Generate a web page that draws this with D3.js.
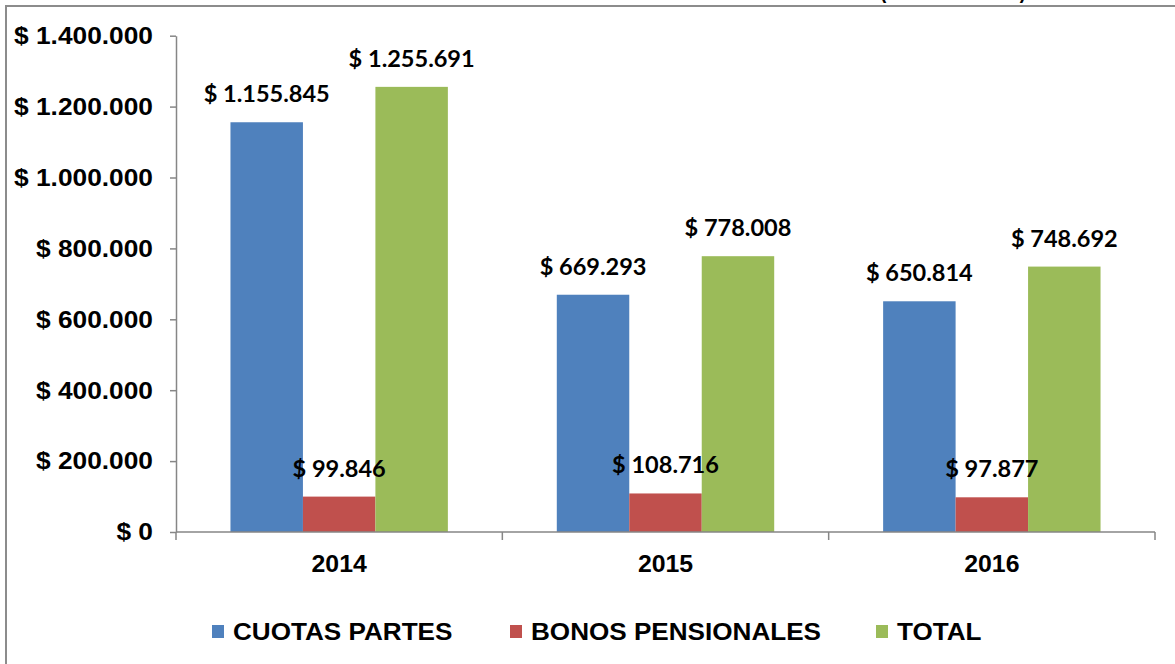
<!DOCTYPE html>
<html>
<head>
<meta charset="utf-8">
<script src="https://cdn.jsdelivr.net/npm/d3@7"></script>
<style>
  html, body { margin: 0; padding: 0; background: #fff; }
  svg { display: block; }
</style>
</head>
<body>
<svg id="chart" width="1175" height="664"></svg>
<script>
// Years on the category axis
const years = ["2014", "2015", "2016"];
// Series names (legend order)
const seriesNames = ["CUOTAS PARTES", "BONOS PENSIONALES", "TOTAL"];
// Values per series, one per year
const cuotasPartes = [1155845, 669293, 650814];
const bonosPensionales = [99846, 108716, 97877];
const total = [1255691, 778008, 748692];
// Y axis ticks
const yTicks = [0, 200000, 400000, 600000, 800000, 1000000, 1200000, 1400000];

const seriesValues = [cuotasPartes, bonosPensionales, total];
const colors = ["#4F81BD", "#C0504D", "#9BBB59"];

const locale = d3.formatLocale({ decimal: ",", thousands: ".", grouping: [3], currency: ["$ ", ""] });
const money = locale.format("$,.0f");

const svg = d3.select("#chart");

// frame
svg.append("path")
  .attr("d", "M6,664 L6,6 L1175,6")
  .attr("fill", "none").attr("stroke", "#8c8c8c").attr("stroke-width", 2);

// heading running off the top edge
svg.append("text")
  .attr("x", 880).attr("y", -2)
  .attr("textLength", 146).attr("lengthAdjust", "spacingAndGlyphs")
  .attr("font-family", "Liberation Sans, Arial, sans-serif")
  .attr("font-weight", "bold").attr("font-size", 22)
  .text("(Cifras en miles)");

const plot = { left: 176, right: 1155, top: 35.7, bottom: 532 };

const y = d3.scaleLinear().domain([0, 1400000]).range([plot.bottom, plot.top]);
const x0 = d3.scaleBand().domain(years).range([plot.left, plot.right]).padding(0);
const x1 = d3.scaleBand().domain(seriesNames)
  .range([x0.bandwidth() * 0.1669, x0.bandwidth() * 0.8331]).padding(0);

// stretched bold text helper
function label(g, x, yy, str, opts) {
  return g.append("text")
    .attr("transform", `translate(${x},${yy}) scale(${opts.sx},1)`)
    .attr("text-anchor", opts.anchor || "middle")
    .attr("font-family", opts.family)
    .attr("font-weight", "bold")
    .attr("font-size", opts.size)
    .attr("fill", "#000")
    .text(str);
}

const arial = "Liberation Sans, Arial, sans-serif";
const calib = "Lato, Carlito, Calibri, sans-serif";

// bars
const groups = svg.append("g").selectAll("g")
  .data(years).join("g")
  .attr("transform", d => `translate(${x0(d)},0)`);

groups.selectAll("rect")
  .data((d, i) => seriesNames.map((s, k) => ({ s, k, v: seriesValues[k][i] })))
  .join("rect")
  .attr("x", d => x1(d.s))
  .attr("width", x1.bandwidth())
  .attr("y", d => y(d.v))
  .attr("height", d => y(0) - y(d.v))
  .attr("fill", d => colors[d.k]);

// Y axis
const yAxis = svg.append("g")
  .attr("transform", `translate(${plot.left},0)`)
  .call(d3.axisLeft(y).tickValues(yTicks).tickSize(6).tickSizeOuter(0).tickFormat(""));
yAxis.selectAll("path, line").attr("stroke", "#868686").attr("stroke-width", 1.5);
yTicks.forEach(t => {
  label(svg, 153, y(t) + 8.3, money(t), { sx: 1.144, anchor: "end", family: arial, size: 23 });
});

// X axis: baseline plus ticks at category boundaries
const xAxis = svg.append("g");
xAxis.append("line")
  .attr("x1", plot.left).attr("x2", plot.right)
  .attr("y1", y(0)).attr("y2", y(0))
  .attr("stroke", "#868686").attr("stroke-width", 1.5);
const bounds = years.map(d => x0(d)).concat([x0(years[years.length - 1]) + x0.bandwidth()]);
xAxis.selectAll("line.tick").data(bounds).join("line")
  .attr("class", "tick")
  .attr("x1", d => d).attr("x2", d => d)
  .attr("y1", y(0)).attr("y2", y(0) + 8)
  .attr("stroke", "#868686").attr("stroke-width", 1.5);
years.forEach(d => {
  label(svg, x0(d) + x0.bandwidth() / 2, 572, d, { sx: 1.08, family: arial, size: 23 });
});

// value labels above bars
years.forEach((yr, i) => {
  seriesNames.forEach((s, k) => {
    const v = seriesValues[k][i];
    label(svg, x0(yr) + x1(s) + x1.bandwidth() / 2, y(v) - 20, money(v),
      { sx: 1.07, family: calib, size: 22 });
  });
});

// legend
const legendX = [212, 510, 876];
seriesNames.forEach((s, k) => {
  svg.append("rect")
    .attr("x", legendX[k]).attr("y", 625)
    .attr("width", 12).attr("height", 13)
    .attr("fill", colors[k]);
  label(svg, legendX[k] + 21, 639.5, s, { sx: 1.135, anchor: "start", family: arial, size: 23 });
});
</script>
</body>
</html>
